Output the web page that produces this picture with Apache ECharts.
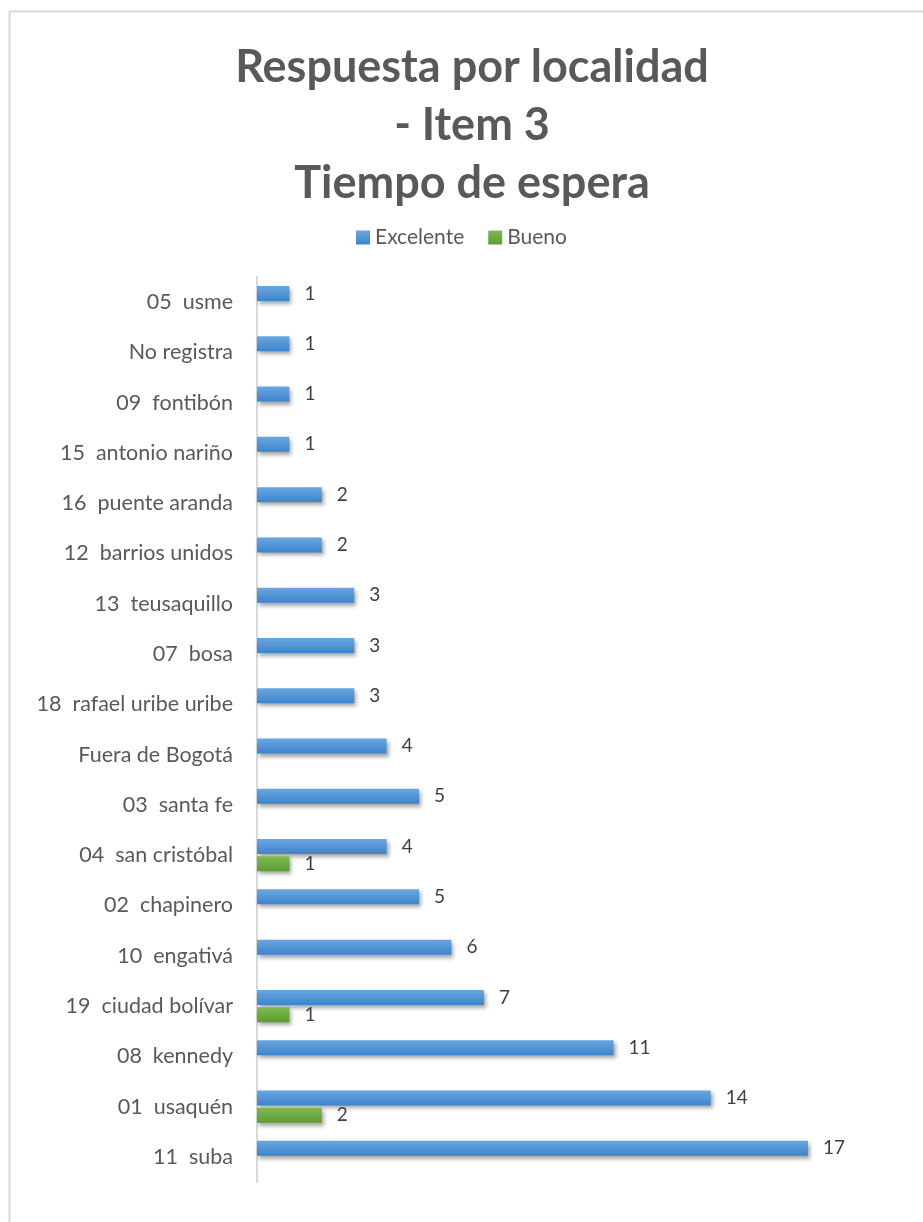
<!DOCTYPE html>
<html>
<head>
<meta charset="utf-8">
<script src="https://cdn.jsdelivr.net/npm/echarts@6/dist/echarts.min.js"></script>
<style>
  html, body { margin: 0; padding: 0; background: #fff; overflow: hidden; }
  #chart { width: 923px; height: 1222px; }
</style>
</head>
<body>
<div id="chart"></div>
<script>
const categories = [
  '05  usme', 'No registra', '09  fontibón', '15  antonio nariño', '16  puente aranda',
  '12  barrios unidos', '13  teusaquillo', '07  bosa', '18  rafael uribe uribe', 'Fuera de Bogotá',
  '03  santa fe', '04  san cristóbal', '02  chapinero', '10  engativá', '19  ciudad bolívar',
  '08  kennedy', '01  usaquén', '11  suba'
]
const excelente = [1, 1, 1, 1, 2, 2, 3, 3, 3, 4, 5, 4, 5, 6, 7, 11, 14, 17]
const bueno = [null, null, null, null, null, null, null, null, null, null, null, 1, null, null, 1, null, 2, null]
const titleLines = ['Respuesta por localidad', '- Item 3', 'Tiempo de espera']

const font = 'Lato, "Open Sans", sans-serif'

function barStyle (top, bottom) {
  return {
    color: new echarts.graphic.LinearGradient(0, 0, 0, 1, [
      { offset: 0, color: top },
      { offset: 1, color: bottom }
    ]),
    shadowColor: 'rgba(0,0,0,0.35)',
    shadowBlur: 4,
    shadowOffsetX: 2,
    shadowOffsetY: 3
  }
}

const valueLabel = {
  show: true,
  position: 'right',
  distance: 15,
  fontFamily: font,
  fontSize: 19,
  color: '#404040'
}

const chart = echarts.init(document.getElementById('chart'))
chart.setOption({
  animation: false,
  textStyle: { fontFamily: font },
  title: {
    text: titleLines.join('\n'),
    left: 472,
    top: 38,
    padding: 0,
    textAlign: 'center',
    textStyle: {
      fontFamily: font,
      fontSize: 45,
      fontWeight: 'bold',
      color: '#595959',
      lineHeight: 58
    }
  },
  legend: {
    top: 222,
    left: 'center',
    itemWidth: 14,
    itemHeight: 14,
    itemGap: 24,
    icon: 'rect',
    textStyle: { fontFamily: font, fontSize: 21, color: '#595959' },
    data: ['Excelente', 'Bueno']
  },
  graphic: [{
    type: 'rect',
    shape: { x: 9.5, y: 11.5, width: 1000, height: 1300 },
    style: { fill: null, stroke: '#d9d9d9', lineWidth: 2 },
    silent: true
  }],
  grid: {
    left: 257,
    right: 115,
    top: 277,
    bottom: 40
  },
  xAxis: {
    type: 'value',
    min: 0,
    max: 17,
    show: false
  },
  yAxis: {
    type: 'category',
    inverse: true,
    data: categories,
    axisLine: { show: true, lineStyle: { color: '#d9d9d9', width: 2 } },
    axisTick: { show: false },
    axisLabel: {
      fontFamily: font,
      fontSize: 21.5,
      color: '#595959',
      margin: 24
    }
  },
  series: [{
    name: 'Excelente',
    type: 'bar',
    data: excelente,
    barWidth: 15,
    barGap: '15%',
    itemStyle: barStyle('#6aa6e2', '#3d84cc'),
    label: valueLabel
  }, {
    name: 'Bueno',
    type: 'bar',
    data: bueno,
    barWidth: 15,
    itemStyle: barStyle('#7dbb51', '#5c9c32'),
    label: valueLabel
  }]
})
</script>
</body>
</html>
